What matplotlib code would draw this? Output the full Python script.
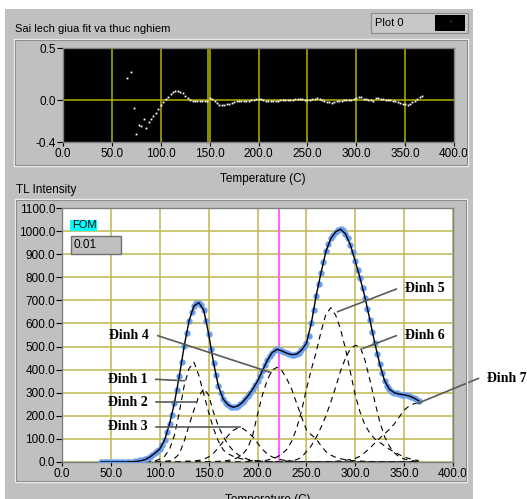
import matplotlib
matplotlib.use("Agg")
import matplotlib.pyplot as plt
import numpy as np
from matplotlib.patches import Rectangle
from matplotlib.ticker import FormatStrFormatter, MultipleLocator

plt.rcParams["font.family"] = ["Liberation Sans", "DejaVu Sans"]

# measured glow curve, one point every 2.5 C from 40 C
meas_start, meas_step = 40, 2.5
measured = [
    0, 0, 0, 0, 0, 0, 0, 0, 0, 0,
    0, 1, 1, 2, 3, 5, 7, 9, 12, 16,
    22, 30, 38, 46, 55, 72, 96, 128, 165, 205,
    255, 310, 372, 435, 502, 560, 612, 650, 676, 688,
    690, 680, 658, 612, 555, 490, 430, 375, 328, 298,
    272, 257, 247, 240, 237, 238, 243, 250, 260, 272,
    285, 300, 315, 332, 350, 372, 395, 418, 440, 458,
    474, 483, 488, 486, 481, 476, 471, 467, 465, 465,
    467, 474, 484, 497, 514, 545, 600, 660, 720, 770,
    820, 868, 912, 945, 968, 985, 997, 1005, 1008, 1005,
    988, 968, 940, 908, 870, 832, 795, 752, 712, 662,
    615, 565, 515, 468, 425, 385, 352, 330, 315, 305,
    300, 297, 294, 292, 291, 288, 286, 282, 277, 271,
    265,
]

# fitted sum curve, every 5 C from 40 C
fit_start, fit_step = 40, 5
fit = [
    0, 0, 0, 0, 0, 0, 1, 2, 5, 10,
    22, 38, 56, 96, 165, 255, 372, 502, 612, 676,
    690, 658, 555, 430, 328, 272, 247, 237, 243, 260,
    285, 315, 350, 395, 440, 474, 488, 481, 471, 465,
    467, 484, 514, 600, 720, 820, 912, 968, 997, 1008,
    988, 940, 870, 795, 712, 615, 515, 425, 352, 315,
    300, 294, 291, 286, 277, 265,
]

# component peaks (dashed), every 5 C from 85 C
comp_start, comp_step = 85, 5
peak1 = [0, 2, 5, 12, 25, 55, 115, 215, 330, 405,
         432, 375, 295, 215, 145, 90, 52, 35, 25, 18,
         12, 8, 5, 4, 3, 2, 2, 1, 1, 1,
         1, 1, 0, 0, 0, 0, 0, 0, 0, 0,
         0, 0, 0, 0, 0, 0, 0, 0, 0, 0,
         0, 0, 0, 0, 0, 0, 0]
peak2 = [0, 0, 1, 2, 3, 5, 15, 35, 90, 160,
         225, 285, 318, 290, 215, 155, 110, 75, 50, 32,
         20, 12, 8, 5, 3, 2, 1, 1, 1, 0,
         0, 0, 0, 0, 0, 0, 0, 0, 0, 0,
         0, 0, 0, 0, 0, 0, 0, 0, 0, 0,
         0, 0, 0, 0, 0, 0, 0]
peak3 = [0, 0, 0, 0, 0, 1, 1, 2, 3, 4,
         5, 7, 12, 22, 38, 62, 88, 115, 137, 147,
         145, 130, 110, 82, 55, 35, 22, 14, 9, 6,
         4, 3, 2, 1, 1, 1, 0, 0, 0, 0,
         0, 0, 0, 0, 0, 0, 0, 0, 0, 0,
         0, 0, 0, 0, 0, 0, 0]
peak4 = [0, 0, 0, 0, 0, 0, 0, 0, 0, 0,
         0, 1, 1, 1, 2, 3, 5, 7, 10, 20,
         35, 60, 115, 205, 290, 355, 398, 410, 395, 360,
         315, 255, 195, 140, 118, 100, 70, 45, 30, 20,
         14, 10, 7, 5, 4, 3, 2, 2, 1, 1,
         1, 1, 1, 1, 1, 1, 1]
peak5 = [0, 0, 0, 0, 0, 0, 0, 0, 0, 0,
         0, 0, 0, 0, 0, 0, 0, 0, 0, 0,
         0, 1, 2, 3, 5, 8, 14, 22, 35, 55,
         90, 145, 220, 315, 400, 475, 565, 640, 668, 635,
         575, 490, 390, 290, 215, 160, 125, 100, 85, 70,
         55, 43, 32, 22, 15, 10, 6]
peak6 = [0, 0, 0, 0, 0, 0, 0, 0, 0, 0,
         0, 0, 0, 0, 0, 0, 0, 0, 0, 0,
         0, 0, 0, 0, 0, 0, 0, 1, 2, 4,
         6, 10, 20, 45, 70, 106, 150, 200, 260, 325,
         395, 450, 490, 505, 500, 440, 355, 262, 175, 110,
         68, 40, 22, 13, 8, 5, 3]
peak7 = [0, 0, 0, 0, 0, 0, 0, 0, 0, 0,
         0, 0, 0, 0, 0, 0, 0, 0, 0, 0,
         0, 0, 0, 0, 0, 0, 0, 0, 0, 0,
         0, 0, 0, 0, 0, 1, 1, 2, 2, 3,
         5, 7, 11, 16, 25, 42, 60, 82, 103, 122,
         142, 165, 195, 225, 242, 252, 258]
components = [peak1, peak2, peak3, peak4, peak5, peak6, peak7]

# residual (fit - experiment), every 2.5 C from 65 C
resid_start, resid_step = 65, 2.5
residual = [
    0.21, np.nan, 0.27, -0.07, -0.32, -0.24, -0.25, -0.18, -0.27, -0.21,
    -0.18, -0.15, -0.12, -0.08, -0.05, -0.02, 0.01, 0.035, 0.055, 0.075,
    0.088, 0.09, 0.082, 0.065, 0.045, 0.02, 0.005, -0.006, -0.01, -0.01,
    -0.01, -0.01, -0.01, -0.01, 0.02, 0.01, -0.01, -0.03, -0.042, -0.045,
    -0.044, -0.04, -0.033, -0.025, -0.016, -0.012, -0.01, -0.01, -0.008, -0.006,
    -0.003, 0.002, 0.006, 0.01, 0.016, 0.012, 0.006, -0.003, -0.01, -0.01,
    -0.01, -0.008, -0.004, 0.0, 0.003, 0.005, 0.006, 0.006, 0.006, 0.008,
    0.01, 0.013, 0.008, 0.001, 0.0, 0.003, 0.008, 0.013, 0.026, 0.01,
    0.0, -0.008, -0.016, -0.02, -0.023, -0.018, -0.01, -0.006, -0.003, -0.001,
    0.0, 0.002, 0.005, 0.012, 0.023, 0.03, 0.028, 0.015, 0.008, 0.003,
    0.0, -0.005, 0.02, 0.02, 0.013, 0.008, 0.003, 0.001, 0.0, -0.005,
    -0.01, -0.02, -0.03, -0.037, -0.04, -0.042, -0.038, -0.02, -0.005, 0.013,
    0.03, 0.04,
]

# peak labels: text position and pointer (start -> tip), data coords
peak_names = ["Đinh 1", "Đinh 2", "Đinh 3", "Đinh 4", "Đinh 5", "Đinh 6", "Đinh 7"]
label_xy = [(47, 358), (47, 259), (47, 153), (48, 547), (351, 752), (351, 550), (435, 362)]
pointer_from = [(96, 358), (96, 259), (96, 153), (98, 547), (342, 749), (342, 547), (426, 362)]
pointer_to = [(125, 352), (138, 259), (182, 153), (214, 387), (282, 651), (308, 492), (364, 254)]

fom_value = "0.01"
cursor_top = 148
cursor_bottom = 221.5

temp = meas_start + meas_step * np.arange(len(measured))
fit_temp = fit_start + fit_step * np.arange(len(fit))
comp_temp = comp_start + comp_step * np.arange(len(peak1))
resid_temp = resid_start + resid_step * np.arange(len(residual))

W, H = 527, 499
fig = plt.figure(figsize=(W / 100, H / 100), dpi=100, facecolor="white")


def box(x0, y0, x1, y1, **kw):
    r = Rectangle((x0 / W, 1 - y1 / H), (x1 - x0) / W, (y1 - y0) / H,
                  transform=fig.transFigure, **kw)
    fig.add_artist(r)


def label(x, y, s, **kw):
    fig.text(x / W, 1 - y / H, s, **kw)


panel = "#c0c0c0"
box(5, 9, 473, 499, fc=panel, ec="none", zorder=0)
# recessed frames around the two graphs
for x0, y0, x1, y1 in [(14, 39, 468, 166), (15, 199, 467, 482)]:
    box(x0, y0, x1, y1, fc="none", ec="#f0f0f0", lw=1.0, zorder=0.5)
    box(x0 + 1, y0 + 1, x1 - 1, y1 - 1, fc="none", ec="#8c8c8c", lw=0.8, zorder=0.5)

# legend "Plot 0"
box(371, 13, 468, 33, fc="#c8c8c8", ec="#8c8c8c", lw=0.8, zorder=1)
box(435, 15, 465, 31, fc="black", ec="none", zorder=2)
label(375, 23, "Plot 0", fontsize=8, va="center", ha="left")
label(450, 21, ".", fontsize=5, color="white", ha="center", va="center")

label(15, 29, "Sai lech giua fit va thuc nghiem", fontsize=8, va="center")
label(263, 179, "Temperature (C)", fontsize=8.5, ha="center", va="center")
label(16, 190, "TL Intensity", fontsize=8.5, va="center")
label(268, 494, "Temperature (C)", fontsize=8.5, ha="center", va="top")

# ---- residual graph
ax1 = fig.add_axes([63 / W, 1 - 142 / H, 391 / W, 94 / H])
ax1.set_facecolor("black")
ax1.set_xlim(0, 400)
ax1.set_ylim(-0.4, 0.5)
ax1.set_xticks(np.arange(0, 401, 50))
ax1.set_yticks([-0.4, 0.0, 0.5])
for v in range(50, 400, 50):
    ax1.axvline(v, color="#b4b400", lw=1.1, zorder=1)
ax1.axvline(cursor_top, color="#b4b400", lw=1.1, zorder=1)
ax1.axhline(0, color="#b4b400", lw=1.1, zorder=1)
ax1.plot(resid_temp, residual, ls="none", marker="s", ms=1.3, color="white",
         mec="none", zorder=3)

# ---- glow curve graph
ax2 = fig.add_axes([62 / W, 1 - 462 / H, 391 / W, 254 / H])
ax2.set_facecolor("white")
ax2.set_xlim(0, 400)
ax2.set_ylim(0, 1100)
ax2.xaxis.set_major_locator(MultipleLocator(50))
ax2.yaxis.set_major_locator(MultipleLocator(100))
ax2.grid(True, color="#c4bc5c", lw=1.2, zorder=0)
ax2.set_axisbelow(True)
ax2.axvline(cursor_bottom, color="#ff66ff", lw=1.5, zorder=1.5)

for comp in components:
    ax2.plot(comp_temp, comp, color="black", lw=0.8, ls=(0, (5, 4)), zorder=2)
ax2.plot(temp, measured, ls="none", marker="o", ms=4.6, color="#6a9ef0",
         mec="none", zorder=3)
ax2.plot(fit_temp, fit, color="black", lw=1.0, zorder=4)

for name, (tx, ty), (x0, y0), (x1, y1) in zip(peak_names, label_xy, pointer_from, pointer_to):
    ax2.plot([x0, x1], [y0, y1], color="#5a5a5a", lw=1.2, clip_on=False, zorder=5)
    ax2.text(tx, ty, name, family=["Liberation Serif", "DejaVu Serif"],
             fontweight="bold", fontsize=10, va="center", ha="left", clip_on=False)

# FOM indicator
box(70, 220, 97, 231, fc="#00ffff", ec="none", zorder=3)
label(72, 225.5, "FOM", fontsize=8, va="center", zorder=4)
box(71, 236, 121, 254, fc="#c0c0c0", ec="#707070", lw=1.0, zorder=3)
label(73, 245, fom_value, fontsize=8.5, va="center", zorder=4)

for ax in (ax1, ax2):
    ax.xaxis.set_major_formatter(FormatStrFormatter("%.1f"))
    ax.yaxis.set_major_formatter(FormatStrFormatter("%.1f"))
    ax.tick_params(axis="x", direction="out", length=3, width=0.8, pad=1,
                   labelsize=8.5, colors="black")
    ax.tick_params(axis="y", direction="out", length=4, width=0.8, pad=1,
                   labelsize=8.5, colors="black")
    for s in ax.spines.values():
        s.set_color("#808080")
        s.set_linewidth(1.0)

fig.savefig("out.png", dpi=100, facecolor="white")
